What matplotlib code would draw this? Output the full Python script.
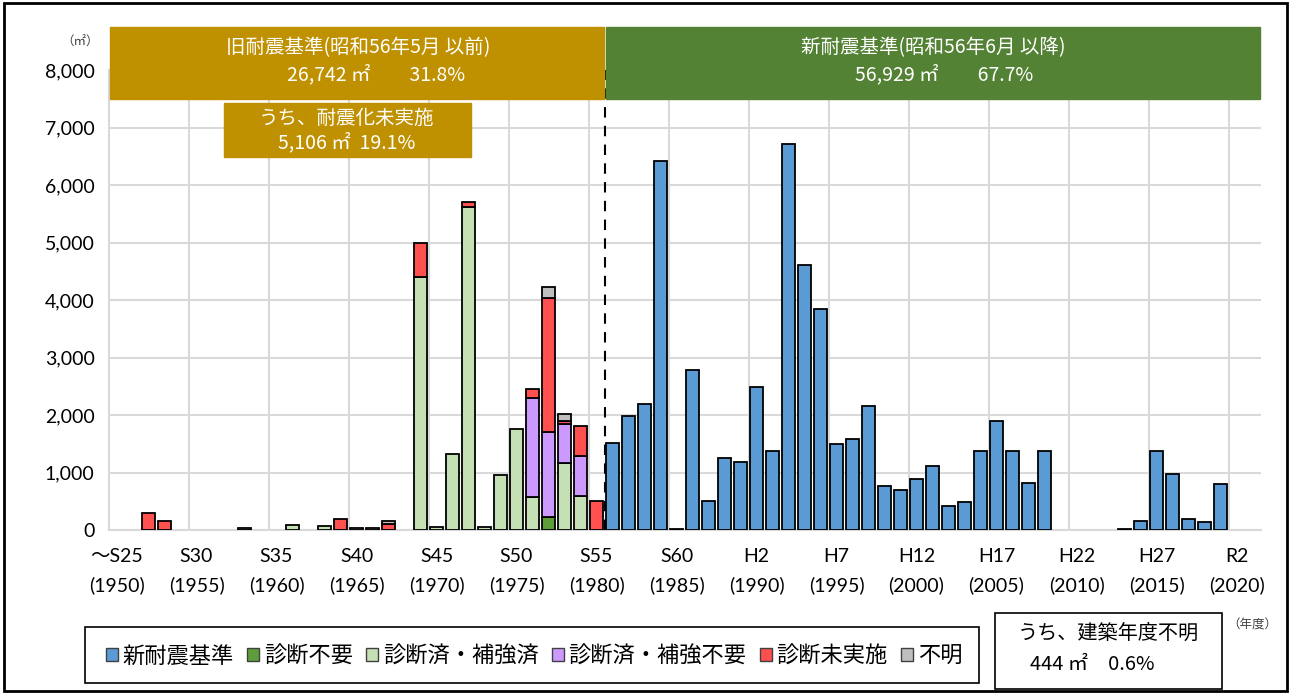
import numpy as np
import matplotlib.pyplot as plt
from matplotlib.patches import Rectangle, Patch

plt.rcParams['font.family'] = ['Noto Sans CJK JP', 'DejaVu Sans']

# 建築年度 (～S25 から R3 まで)
years = list(range(1950, 2022))

# 旧耐震基準の建物 (1950〜1980) 延床面積 ㎡
old_years = list(range(1950, 1981))
shindan_fuyou = [0, 0, 0, 0, 0, 0, 0, 0, 0, 0, 0, 0, 0, 0, 0, 0,
                 0, 0, 0, 0, 0, 0, 0, 0, 0, 0, 0, 230, 0, 0, 0]
hokyo_zumi = [0, 0, 0, 0, 0, 0, 0, 0, 0, 0, 0, 80, 0, 70, 0, 0,
              0, 0, 0, 4400, 60, 1330, 5620, 50, 960, 1760, 580, 0, 1160, 590, 0]
hokyo_fuyou = [0, 0, 0, 0, 0, 0, 0, 0, 0, 0, 0, 0, 0, 0, 0, 0,
               0, 0, 0, 0, 0, 0, 0, 0, 0, 0, 1710, 1480, 680, 700, 0]
mijisshi = [0, 0, 300, 160, 0, 0, 0, 0, 0, 0, 0, 0, 0, 0, 200, 0,
            0, 100, 0, 600, 0, 0, 90, 0, 0, 0, 170, 2330, 60, 520, 510]
fumei = [0, 0, 0, 0, 0, 0, 0, 0, 30, 0, 0, 0, 0, 0, 0, 30,
         30, 60, 0, 0, 0, 0, 0, 0, 0, 0, 0, 180, 110, 0, 0]

# 新耐震基準の建物 (1981〜2021)
new_years = list(range(1981, 2022))
shin_taishin = [1520, 1990, 2200, 6410, 25, 2780, 510, 1260, 1190, 2490,
                1370, 6720, 4610, 3850, 1490, 1590, 2150, 770, 700, 880,
                1120, 410, 480, 1370, 1900, 1370, 820, 1380, 0, 0,
                0, 0, 15, 150, 1370, 980, 190, 140, 800, 0, 0]

tick_labels = ['～S25\n(1950)', 'S30\n(1955)', 'S35\n(1960)', 'S40\n(1965)',
               'S45\n(1970)', 'S50\n(1975)', 'S55\n(1980)', 'S60\n(1985)',
               'H2\n(1990)', 'H7\n(1995)', 'H12\n(2000)', 'H17\n(2005)',
               'H22\n(2010)', 'H27\n(2015)', 'R2\n(2020)']

series = [
    ('新耐震基準', '#5b9bd5', new_years, shin_taishin),
    ('診断不要', '#5e9e3a', old_years, shindan_fuyou),
    ('診断済・補強済', '#c5e0b4', old_years, hokyo_zumi),
    ('診断済・補強不要', '#cc99ff', old_years, hokyo_fuyou),
    ('診断未実施', '#ff5050', old_years, mijisshi),
    ('不明', '#bfbfbf', old_years, fumei),
]

W, H = 1292, 694


def fx(px):
    return px / W


def fy(py):
    return 1 - py / H


fig = plt.figure(figsize=(W / 100, H / 100), dpi=100)
ax = fig.add_axes([fx(108.5), fy(530), 1152 / W, 460 / H])

num_font = ['Lato', 'Noto Sans CJK JP']
bottom = np.zeros(len(years))
for name, color, ys, vals in series:
    full = np.zeros(len(years))
    for y, v in zip(ys, vals):
        full[years.index(y)] = v
    idx = np.nonzero(full)[0]
    ax.bar(idx, full[idx], bottom=bottom[idx], width=0.76, color=color,
           edgecolor='black', linewidth=1.3, zorder=3)
    bottom += full

ax.set_xlim(-0.5, len(years) - 0.5)
ax.set_ylim(0, 8000)
ax.set_yticks(np.arange(0, 8001, 1000))
ax.set_yticklabels([f'{v:,}' for v in range(0, 8001, 1000)],
                   fontsize=14, family=num_font)
ax.set_xticks(np.arange(0, len(years), 5))
ax.set_xticklabels(tick_labels, fontsize=14, family=num_font, linespacing=1.75)
ax.tick_params(length=0, pad=10)
ax.tick_params(axis='x', pad=13)

# 5年ごとの区切り線
for b in np.arange(4.5, len(years) - 1, 5):
    ax.axvline(b, color='#d9d9d9', lw=1.5, zorder=1)
ax.grid(axis='y', color='#d9d9d9', lw=1.5, zorder=1)
for s in ['top', 'right']:
    ax.spines[s].set_visible(False)
for s in ['left', 'bottom']:
    ax.spines[s].set_color('#d9d9d9')
    ax.spines[s].set_linewidth(1.5)

# 旧・新耐震基準の境界 (昭和56年6月)
boundary = years.index(1981) - 0.5
ax.plot([boundary, boundary], [0, 8000], ls=(0, (5, 4)), color='black',
        lw=1.5, zorder=4)

# 上部の帯
gold = '#bf9000'
green = '#548235'
fig.add_artist(Rectangle((fx(110), fy(99)), (604 - 110) / W, 72 / H,
                         transform=fig.transFigure, color=gold, zorder=5))
fig.add_artist(Rectangle((fx(606), fy(99)), (1260 - 606) / W, 72 / H,
                         transform=fig.transFigure, color=green, zorder=5))
fig.text(fx(358), fy(48), '旧耐震基準(昭和56年5月 以前)', color='white',
         fontsize=14, ha='center', va='center', zorder=6)
fig.text(fx(376), fy(75), '26,742 ㎡　　31.8%', color='white',
         fontsize=14, ha='center', va='center', zorder=6)
fig.text(fx(933), fy(48), '新耐震基準(昭和56年6月 以降)', color='white',
         fontsize=14, ha='center', va='center', zorder=6)
fig.text(fx(944), fy(75), '56,929 ㎡　　67.7%', color='white',
         fontsize=14, ha='center', va='center', zorder=6)

fig.add_artist(Rectangle((fx(224), fy(157)), (471 - 224) / W, 54 / H,
                         transform=fig.transFigure, color=gold, zorder=5))
fig.text(fx(347), fy(118), 'うち、耐震化未実施', color='white',
         fontsize=14, ha='center', va='center', zorder=6)
fig.text(fx(347), fy(143), '5,106 ㎡  19.1%', color='white',
         fontsize=14, ha='center', va='center', zorder=6)

fig.text(fx(80), fy(42), '（㎡）', fontsize=9, color='#404040',
         ha='center', va='center')
fig.text(fx(1252), fy(625), '（年度）', fontsize=9, color='#404040',
         ha='center', va='center')

# 凡例
fig.add_artist(Rectangle((fx(85), fy(683)), (979 - 85) / W, 56 / H,
                         transform=fig.transFigure, fill=False,
                         edgecolor='black', lw=1.2))
handles = [Patch(facecolor=c, edgecolor='#404040', lw=1) for _, c, _, _ in series]
fig.legend(handles, [s[0] for s in series], loc='center',
           bbox_to_anchor=(fx(534), fy(656)), ncol=6, frameon=False,
           fontsize=16, handlelength=0.55, handleheight=0.55,
           handletextpad=0.2, columnspacing=0.6, borderaxespad=0)

fig.add_artist(Rectangle((fx(995), fy(689)), (1222 - 995) / W, 76 / H,
                         transform=fig.transFigure, fill=False,
                         edgecolor='black', lw=1.2))
fig.text(fx(1108), fy(633), 'うち、建築年度不明', fontsize=14.5,
         ha='center', va='center')
fig.text(fx(1030), fy(665), '444 ㎡　0.6%', fontsize=14.5,
         ha='left', va='center')

# 外枠
fig.add_artist(Rectangle((fx(4), fy(691)), (1287 - 4) / W, 688 / H,
                         transform=fig.transFigure, fill=False,
                         edgecolor='black', lw=2))

fig.savefig('out.png', dpi=100)
